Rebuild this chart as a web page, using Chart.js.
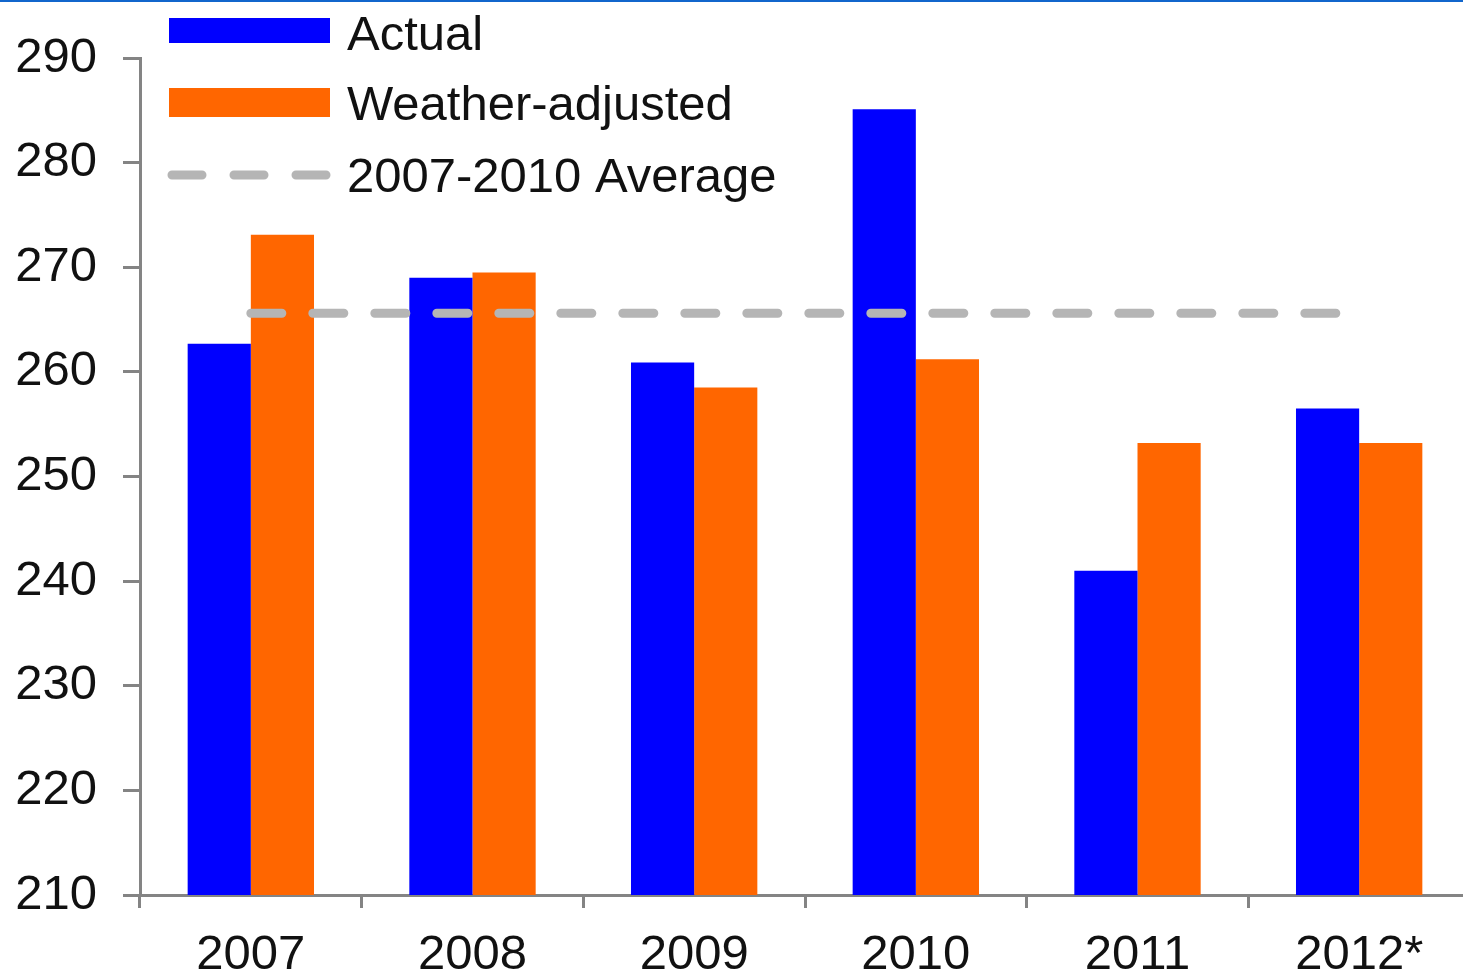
<!DOCTYPE html>
<html>
<head>
<meta charset="utf-8">
<script src="https://cdn.jsdelivr.net/npm/chart.js@4"></script>
<style>
  html, body { margin: 0; padding: 0; background: #fff; overflow: hidden; }
  #wrap { position: absolute; left: 0; top: 0; width: 1470px; height: 975px; }
  #topline { position: absolute; left: 0; top: 0; width: 1463px; height: 2px; background: #1166cc; z-index: 2; }
</style>
</head>
<body>
<div id="topline"></div>
<div id="wrap"><canvas id="c" width="1470" height="975"></canvas></div>
<script>
const categories = ['2007', '2008', '2009', '2010', '2011', '2012*'];
const actual = [262.7, 269.0, 260.9, 285.1, 241.0, 256.5];
const weatherAdjusted = [273.1, 269.5, 258.5, 261.2, 253.2, 253.2];
const averageValue = 265.6;
const average = categories.map(() => averageValue);
const yTicks = { min: 210, max: 290, step: 10 };

const FONT = '"Liberation Sans", Arial, sans-serif';
const AXIS = '#848484';

const legendPlugin = {
  id: 'customLegend',
  afterDraw(chart) {
    const ctx = chart.ctx;
    const ds = chart.data.datasets;
    ctx.save();
    ctx.font = '49px ' + FONT;
    ctx.textBaseline = 'alphabetic';
    ctx.textAlign = 'left';
    ctx.fillStyle = ds[0].backgroundColor;
    ctx.fillRect(169, 18, 161, 25);
    ctx.fillStyle = ds[1].backgroundColor;
    ctx.fillRect(169, 88, 161, 29);
    ctx.strokeStyle = ds[2].borderColor;
    ctx.lineWidth = 9;
    ctx.lineCap = 'round';
    ctx.setLineDash([30, 32]);
    ctx.beginPath();
    ctx.moveTo(172, 175);
    ctx.lineTo(326, 175);
    ctx.stroke();
    ctx.setLineDash([]);
    ctx.fillStyle = '#111111';
    ctx.fillText(ds[0].label, 347, 50);
    ctx.fillText(ds[1].label, 347, 120);
    ctx.fillText(ds[2].label, 347, 192);
    ctx.restore();
  }
};

new Chart(document.getElementById('c'), {
  type: 'bar',
  data: {
    labels: categories,
    datasets: [
      { label: 'Actual', data: actual, backgroundColor: '#0000ff', order: 2,
        categoryPercentage: 0.57, barPercentage: 1.0 },
      { label: 'Weather-adjusted', data: weatherAdjusted, backgroundColor: '#ff6600', order: 2,
        categoryPercentage: 0.57, barPercentage: 1.0 },
      { type: 'line', label: '2007-2010 Average', data: average, borderColor: '#b5b5b5',
        borderWidth: 9, borderDash: [31, 31], borderCapStyle: 'round', pointRadius: 0,
        fill: false, order: 0 }
    ]
  },
  options: {
    responsive: false,
    animation: false,
    events: [],
    layout: { padding: { top: 58, left: 0, right: 0, bottom: 0 } },
    plugins: { legend: { display: false }, tooltip: { enabled: false }, title: { display: false } },
    scales: {
      x: {
        offset: true,
        grid: { display: true, offset: true, drawOnChartArea: false, drawTicks: true,
                tickLength: 13, color: AXIS, lineWidth: 3 },
        border: { display: true, color: AXIS, width: 3 },
        ticks: { font: { family: FONT, size: 49 }, color: '#111111', padding: 18,
                 autoSkip: false, maxRotation: 0, minRotation: 0 },
        afterFit(scale) { scale.height = 80; }
      },
      y: {
        min: yTicks.min, max: yTicks.max,
        grid: { display: true, drawOnChartArea: false, drawTicks: true,
                tickLength: 17, color: AXIS, lineWidth: 3 },
        border: { display: true, color: AXIS, width: 3 },
        ticks: { stepSize: yTicks.step, font: { family: FONT, size: 49 }, color: '#111111', padding: 26 },
        afterFit(scale) { scale.width = 140; }
      }
    }
  },
  plugins: [legendPlugin]
});
</script>
</body>
</html>
